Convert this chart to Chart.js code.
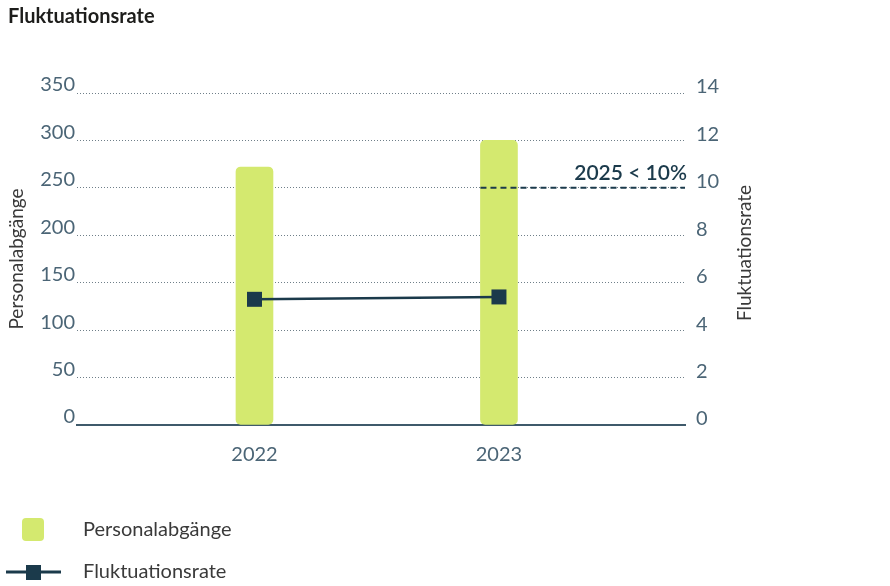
<!DOCTYPE html>
<html>
<head>
<meta charset="utf-8">
<script src="https://cdn.jsdelivr.net/npm/chart.js@4/dist/chart.umd.min.js"></script>
<style>
  html, body { margin: 0; padding: 0; background: #fff; }
  #wrap { width: 890px; height: 586px; position: relative; }
</style>
</head>
<body>
<div id="wrap"><canvas id="chart"></canvas></div>
<script>
// data
const categories = [2022, 2023];
const abgaenge = [272, 300];          // Personalabgänge (left axis)
const fluktuation = [5.3, 5.4];       // Fluktuationsrate in % (right axis)
const leftTicks = [0, 50, 100, 150, 200, 250, 300, 350];
const rightTicks = [0, 2, 4, 6, 8, 10, 12, 14];
const target = { from: 2023, value: 10, label: "2025 < 10%" };

const GREEN = "#d4e96f";
const NAVY = "#1b3a4b";
const TICK = "#4b6576";
const FONT = "Lato, 'Noto Sans', sans-serif";

const BAR_W = 37;

// draws the chart title, right axis title, target line and legend
const extras = {
  id: "extras",
  afterDatasetsDraw(chart) {
    const ctx = chart.ctx;
    const x = chart.scales.x, y1 = chart.scales.y1;
    const area = chart.chartArea;
    // target line
    const ty = y1.getPixelForValue(target.value);
    const tx = x.getPixelForValue(target.from) - BAR_W / 2;
    ctx.save();
    ctx.strokeStyle = NAVY;
    ctx.lineWidth = 2;
    ctx.setLineDash([6, 4]);
    ctx.beginPath();
    ctx.moveTo(tx, ty);
    ctx.lineTo(area.right, ty);
    ctx.stroke();
    ctx.setLineDash([]);
    ctx.fillStyle = NAVY;
    ctx.font = "600 21px " + FONT;
    ctx.textAlign = "right";
    ctx.textBaseline = "alphabetic";
    ctx.fillText(target.label, area.right + 2, ty - 8);
    ctx.restore();
  },
  afterDraw(chart) {
    const ctx = chart.ctx;
    const area = chart.chartArea;
    ctx.save();
    // title
    ctx.fillStyle = "#1d1d1b";
    ctx.font = "bold 20px " + FONT;
    ctx.textBaseline = "middle";
    ctx.textAlign = "left";
    ctx.fillText("Fluktuationsrate", 8, 17);

    // right axis title, reading bottom to top
    ctx.fillStyle = "#3a3a3a";
    ctx.font = "19px " + FONT;
    ctx.translate(745, (area.top + area.bottom) / 2 - 6);
    ctx.rotate(-Math.PI / 2);
    ctx.textAlign = "center";
    ctx.fillText(chart.data.datasets[0].label, 0, 0);
    ctx.setTransform(1, 0, 0, 1, 0, 0);

    // legend
    const ds = chart.data.datasets;
    ctx.fillStyle = GREEN;
    ctx.beginPath();
    ctx.roundRect(22, 518, 22, 23, 4);
    ctx.fill();
    ctx.strokeStyle = NAVY;
    ctx.lineWidth = 3;
    ctx.beginPath();
    ctx.moveTo(6, 572);
    ctx.lineTo(61, 572);
    ctx.stroke();
    ctx.fillStyle = NAVY;
    ctx.fillRect(26, 565, 15, 15);

    ctx.fillStyle = "#3a3a3a";
    ctx.font = "20px " + FONT;
    ctx.textAlign = "left";
    ctx.textBaseline = "middle";
    ctx.fillText(ds[1].label, 83, 530);
    ctx.fillText(ds[0].label, 83, 572);
    ctx.restore();
  }
};

new Chart(document.getElementById("chart"), {
  type: "bar",
  data: {
    datasets: [
      {
        type: "line",
        label: "Fluktuationsrate",
        data: categories.map((c, i) => ({ x: c, y: fluktuation[i] })),
        yAxisID: "y1",
        borderColor: NAVY,
        borderWidth: 2.5,
        pointStyle: "rect",
        pointRadius: 10.6,
        pointBorderWidth: 0,
        pointBackgroundColor: NAVY,
        order: 0
      },
      {
        type: "bar",
        label: "Personalabgänge",
        data: categories.map((c, i) => ({ x: c, y: abgaenge[i] })),
        yAxisID: "y",
        backgroundColor: GREEN,
        barThickness: BAR_W,
        borderRadius: 5,
        borderSkipped: false,
        order: 1
      }
    ]
  },
  options: {
    responsive: true,
    maintainAspectRatio: false,
    animation: false,
    layout: { padding: { top: 93, left: 0, right: 0, bottom: 0 } },
    plugins: { legend: { display: false }, tooltip: { enabled: false } },
    scales: {
      x: {
        type: "linear",
        offset: false,
        min: 2021.274,
        max: 2023.761,
        afterBuildTicks: (axis) => { axis.ticks = categories.map(v => ({ value: v })); },
        afterFit: (axis) => { axis.height = 161; },
        grid: { display: false, offset: false },
        border: { display: true, color: "#3f5a6b", width: 2 },
        ticks: {
          color: TICK,
          font: { family: FONT, size: 20 },
          padding: 10,
          autoSkip: false,
          maxRotation: 0,
          callback: (v) => String(v)
        }
      },
      y: {
        position: "left",
        min: 0,
        max: 350,
        afterBuildTicks: (axis) => { axis.ticks = leftTicks.map(v => ({ value: v })); },
        afterFit: (axis) => { axis.width = 77; },
        border: { display: false, dash: [1, 2] },
        grid: {
          drawTicks: false,
          lineWidth: 1,
          color: (c) => c.tick && c.tick.value === 0 ? "rgba(0,0,0,0)" : "#6f7f89"
        },
        ticks: {
          color: TICK,
          font: { family: FONT, size: 20 },
          padding: 2,
          labelOffset: -8
        },
        title: {
          display: true,
          text: "Personalabgänge",
          color: "#3a3a3a",
          font: { family: FONT, size: 19 },
          padding: { top: 5, bottom: 0 }
        }
      },
      y1: {
        position: "right",
        min: 0,
        max: 14,
        afterBuildTicks: (axis) => { axis.ticks = rightTicks.map(v => ({ value: v })); },
        afterFit: (axis) => { axis.width = 205; },
        border: { display: false },
        grid: { display: false, drawTicks: false },
        ticks: {
          color: TICK,
          font: { family: FONT, size: 20 },
          padding: 11,
          labelOffset: -6
        }
      }
    }
  },
  plugins: [extras]
});
</script>
</body>
</html>
